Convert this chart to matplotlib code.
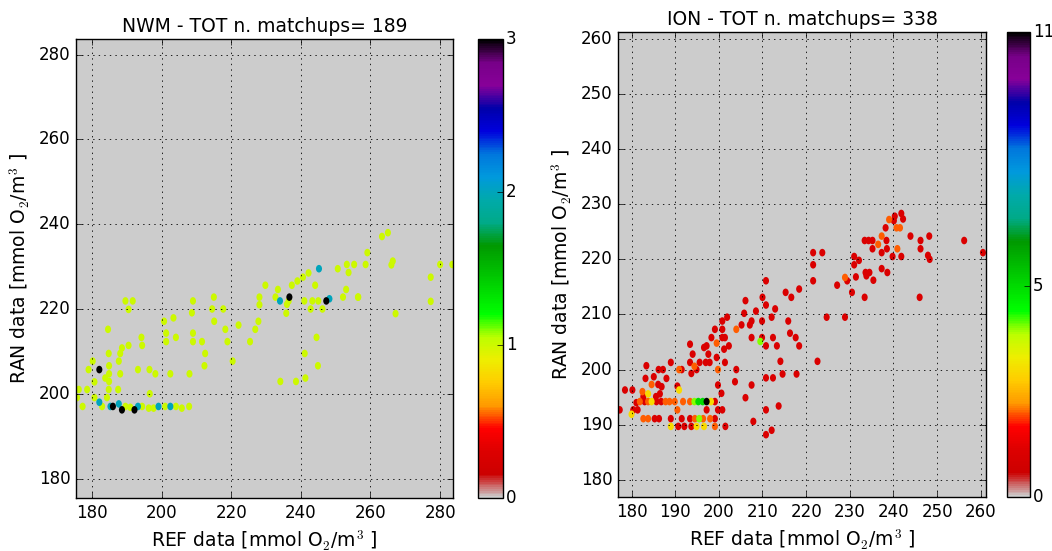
"""Density of matchups RAN vs REF dissolved oxygen for two sub-basins (NWM, ION)."""
import numpy as np
import matplotlib
matplotlib.use("Agg")
import matplotlib.pyplot as plt
from matplotlib.path import Path
from matplotlib.transforms import Affine2D

plt.style.use("classic")
plt.rcParams["figure.facecolor"] = "white"
plt.rcParams["savefig.facecolor"] = "white"
plt.rcParams["mathtext.fontset"] = "cm"

# NWM: occupied (REF, RAN) cells and number of matchups in each
nwm_ref = [189.6, 191.7, 190.5, 209.0, 208.7, 215.0, 214.5, 217.7, 215.1, 218.3,
           222.1, 200.7, 203.4, 201.3, 201.3, 204.1, 209.0, 209.0, 211.6, 212.5,
           212.3, 218.9, 225.4, 220.4, 227.8, 226.9, 228.1, 228.1, 229.8, 233.4,
           232.7, 234.0, 236.5, 236.0, 235.8, 236.7, 237.4, 239.0, 240.6, 242.2,
           241.0, 243.3, 245.0, 242.8, 246.2, 244.1, 245.2, 248.2, 247.3, 250.6,
           253.2, 255.3, 253.7, 253.0, 252.1, 256.4, 244.5, 244.9, 241.1, 241.3,
           234.1, 238.6, 184.6, 184.8, 188.6, 188.1, 190.5, 194.2, 194.4, 180.2,
           182.1, 187.7, 184.9, 188.1, 184.9, 179.0, 193.2, 196.5, 198.2, 202.5,
           208.0, 180.7, 183.8, 184.9, 184.8, 187.5, 176.2, 178.6, 180.7, 175.7,
           184.3, 196.6, 177.3, 182.1, 182.9, 185.3, 186.0, 187.7, 188.6, 189.6,
           191.0, 192.2, 193.2, 194.4, 196.3, 197.7, 199.1, 201.0, 202.5, 204.1,
           205.8, 207.9, 263.3, 265.0, 259.1, 258.6, 266.4, 266.0, 277.3, 280.0,
           283.5, 277.3, 256.5, 267.2]
nwm_ran = [221.9, 221.9, 219.9, 221.9, 219.1, 222.8, 220.0, 220.0, 217.1, 215.2,
           216.2, 217.1, 217.9, 214.3, 212.3, 213.3, 214.3, 212.3, 212.3, 209.5,
           206.6, 212.3, 212.3, 207.7, 217.1, 215.2, 222.8, 221.0, 225.6, 224.6,
           222.8, 221.9, 221.9, 221.1, 219.0, 222.8, 225.6, 226.6, 227.5, 228.5,
           221.9, 221.9, 221.9, 220.0, 220.0, 225.6, 229.5, 222.4, 221.9, 229.5,
           230.5, 230.5, 228.6, 224.6, 222.8, 222.8, 213.3, 206.6, 209.5, 203.7,
           202.9, 202.9, 215.2, 209.5, 210.8, 209.5, 211.4, 213.3, 211.4, 207.7,
           205.7, 207.7, 206.6, 204.7, 204.7, 205.7, 205.7, 205.7, 204.7, 204.7,
           204.7, 202.8, 203.7, 202.9, 201.0, 201.0, 201.0, 201.0, 199.1, 199.1,
           199.1, 200.0, 197.0, 198.0, 197.0, 197.0, 197.0, 197.6, 196.2, 197.0,
           196.8, 196.2, 197.0, 197.0, 196.6, 196.6, 197.0, 197.0, 197.0, 197.0,
           196.6, 197.0, 237.1, 238.0, 233.3, 230.5, 231.3, 230.4, 227.5, 230.5,
           230.5, 221.8, 222.8, 218.9]
nwm_count = [1, 1, 1, 1, 1, 1, 1, 1, 1, 1,
             1, 1, 1, 1, 1, 1, 1, 1, 1, 1,
             1, 1, 1, 1, 1, 1, 1, 1, 1, 1,
             1, 2, 1, 1, 1, 3, 1, 1, 1, 1,
             1, 1, 1, 1, 1, 1, 2, 2, 3, 1,
             1, 1, 1, 1, 1, 1, 1, 1, 1, 1,
             1, 1, 1, 1, 1, 1, 1, 1, 1, 1,
             3, 1, 1, 1, 1, 1, 1, 1, 1, 1,
             1, 1, 1, 1, 1, 1, 1, 1, 1, 1,
             1, 1, 1, 2, 1, 2, 3, 2, 3, 1,
             1, 3, 2, 1, 1, 1, 2, 1, 2, 1,
             1, 1, 1, 1, 1, 1, 1, 1, 1, 1,
             1, 1, 1, 1]

# ION
ion_ref = [240.3, 241.8, 242.2, 240.1, 239.0, 238.2, 240.7, 241.5, 243.9, 246.2,
           248.2, 246.2, 237.3, 238.4, 236.5, 235.2, 234.3, 233.4, 235.2, 237.3,
           238.5, 240.9, 239.8, 241.8, 247.9, 248.3, 256.2, 260.5, 231.0, 231.0,
           232.1, 221.6, 223.7, 221.6, 221.6, 233.6, 234.5, 233.8, 235.4, 237.3,
           238.6, 231.4, 228.9, 229.4, 227.1, 230.5, 233.4, 246.0, 224.7, 228.9,
           210.8, 218.4, 215.3, 216.6, 210.0, 210.8, 206.1, 212.9, 208.5, 205.8,
           209.9, 212.1, 215.9, 216.3, 217.6, 218.4, 214.1, 222.6, 212.4, 213.3,
           209.9, 210.8, 209.5, 207.5, 207.1, 207.5, 205.2, 204.0, 201.9, 200.8,
           200.8, 200.8, 199.1, 201.4, 202.3, 198.3, 197.2, 196.6, 197.6, 197.0,
           193.4, 194.0, 193.4, 195.6, 199.5, 199.5, 201.2, 201.4, 204.0, 199.8,
           197.9, 189.0, 186.2, 187.2, 190.9, 191.5, 194.9, 194.4, 193.7, 183.4,
           183.2, 185.1, 184.6, 186.1, 188.0, 186.9, 190.5, 190.9, 186.5, 185.6,
           182.5, 183.8, 182.7, 181.1, 180.4, 181.4, 178.5, 180.2, 177.3, 180.0,
           181.9, 183.0, 183.8, 184.6, 185.7, 186.8, 187.8, 188.7, 189.9, 191.8,
           193.4, 194.4, 195.3, 196.3, 198.2, 199.1, 197.2,
           182.7, 183.8, 185.3, 186.3, 189.0, 191.5, 193.4, 194.5, 195.5, 196.4,
           198.0, 199.1,
           189.0, 190.7, 192.1, 193.7, 194.9, 196.6, 199.1, 201.5,
           190.5, 197.2, 199.8, 200.8, 203.7, 207.5, 206.1, 199.8, 200.6, 210.8,
           212.4, 214.6, 217.8, 210.8, 213.7, 207.9, 212.1, 210.8]
ion_ran = [227.8, 228.3, 227.3, 227.0, 227.2, 225.7, 225.7, 225.7, 224.2, 223.4,
           224.2, 221.9, 224.2, 223.4, 222.7, 223.4, 223.4, 223.4, 221.9, 221.2,
           221.9, 221.9, 220.5, 220.5, 220.7, 220.0, 223.4, 221.2, 220.5, 219.0,
           219.8, 221.2, 221.2, 219.0, 216.1, 217.6, 217.6, 217.0, 216.2, 218.3,
           217.6, 216.8, 216.7, 216.1, 215.3, 214.0, 213.1, 213.1, 209.5, 209.5,
           216.1, 214.6, 214.0, 213.1, 213.1, 211.7, 212.5, 211.0, 210.6, 210.2,
           208.8, 209.5, 208.8, 206.6, 205.8, 204.3, 201.5, 201.5, 205.8, 204.3,
           205.8, 204.3, 205.1, 208.8, 208.1, 205.8, 208.1, 207.3, 209.5, 208.8,
           207.3, 205.8, 207.3, 205.8, 204.3, 205.8, 204.3, 204.0, 202.8, 201.3,
           204.6, 202.8, 201.3, 201.3, 204.8, 202.2, 203.7, 201.3, 200.0, 200.0,
           201.3, 201.3, 200.0, 200.0, 200.0, 200.0, 200.0, 200.6, 199.3, 200.7,
           198.4, 198.7, 197.3, 197.3, 198.4, 196.9, 197.0, 196.3, 195.6, 195.1,
           196.0, 195.6, 195.1, 194.0, 192.7, 192.7, 196.3, 196.3, 192.7, 191.9,
           194.2, 194.2, 194.2, 194.2, 194.2, 194.2, 194.2, 194.2, 194.2, 194.2,
           194.2, 194.2, 194.2, 194.2, 194.2, 194.2, 194.2,
           191.1, 191.1, 191.1, 191.1, 191.1, 191.1, 191.1, 191.1, 191.1, 191.1,
           191.1, 191.1,
           189.7, 189.7, 189.7, 189.7, 189.7, 189.7, 189.7, 189.7,
           192.7, 192.7, 192.7, 192.7, 197.8, 197.2, 194.9, 197.2, 195.7, 198.5,
           198.5, 199.2, 199.2, 192.7, 193.4, 190.6, 189.0, 188.2]
ion_count = [1, 1, 1, 1, 2, 1, 2, 2, 1, 1,
             1, 1, 2, 1, 2, 1, 1, 1, 1, 1,
             1, 2, 1, 1, 1, 1, 1, 1, 1, 1,
             1, 1, 1, 1, 1, 1, 1, 1, 1, 1,
             1, 1, 2, 1, 1, 1, 1, 1, 1, 1,
             1, 1, 1, 1, 1, 1, 1, 1, 1, 1,
             1, 1, 1, 1, 1, 1, 1, 1, 1, 1,
             1, 1, 4, 1, 1, 1, 1, 2, 1, 1,
             1, 1, 1, 1, 1, 1, 1, 1, 1, 1,
             1, 1, 1, 1, 2, 1, 1, 1, 1, 2,
             1, 1, 1, 1, 2, 1, 1, 2, 1, 1,
             1, 1, 2, 1, 1, 1, 1, 3, 1, 1,
             2, 3, 1, 1, 1, 1, 1, 1, 1, 3,
             2, 1, 2, 3, 1, 1, 2, 2, 2, 2,
             2, 4, 5, 5, 3, 1, 11,
             2, 2, 1, 1, 1, 1, 1, 2, 4, 2,
             2, 1,
             3, 1, 1, 1, 3, 3, 2, 1,
             2, 1, 1, 1, 1, 1, 1, 1, 1, 1,
             1, 1, 1, 1, 1, 1, 1, 1]

PANELS = [
    dict(name="NWM", ntot=189, ref=nwm_ref, ran=nwm_ran, count=nwm_count,
         lim=(175.4, 283.7), ticks=np.arange(180, 281, 20), cticks=[0, 1, 2, 3],
         ax_px=(76, 39, 453, 498), cb_px=(478, 503)),
    dict(name="ION", ntot=338, ref=ion_ref, ran=ion_ran, count=ion_count,
         lim=(176.9, 261.2), ticks=np.arange(180, 261, 10), cticks=[0, 5, 11],
         ax_px=(618, 32, 986, 497), cb_px=(1007, 1030)),
]

W, H = 1052, 551
cmap = plt.get_cmap("nipy_spectral_r")
UNIT = "[mmol O$_2$/m$^3$ ]"

# slightly tall rounded cell, like one bin of the 2-D histogram
cell = Path.unit_circle().transformed(Affine2D().scale(0.8, 1.0))

fig = plt.figure(figsize=(W / 100, H / 100), dpi=100)


def px_rect(x0, y0, x1, y1):
    return [x0 / W, 1 - y1 / H, (x1 - x0) / W, (y1 - y0) / H]


for p in PANELS:
    x0, y0, x1, y1 = p["ax_px"]
    ax = fig.add_axes(px_rect(x0, y0, x1, y1))
    cax = fig.add_axes(px_rect(p["cb_px"][0], y0, p["cb_px"][1], y1))

    ref = np.asarray(p["ref"])
    ran = np.asarray(p["ran"])
    cnt = np.asarray(p["count"])
    order = np.argsort(cnt, kind="stable")

    ax.set_facecolor(cmap(0.0))
    sc = ax.scatter(ref[order], ran[order], c=cnt[order], s=30, marker=cell,
                    cmap=cmap, vmin=0, vmax=cnt.max(), linewidths=0)

    ax.set_xlim(p["lim"])
    ax.set_ylim(p["lim"])
    ax.set_xticks(p["ticks"])
    ax.set_yticks(p["ticks"])
    ax.grid(True, color="k", linestyle=":", linewidth=0.6)
    ax.tick_params(labelsize=12)
    ax.set_title(f"{p['name']} - TOT n. matchups= {p['ntot']}", fontsize=13.5)
    ax.set_xlabel("REF data " + UNIT, fontsize=13.5)
    ax.set_ylabel("RAN data " + UNIT, fontsize=13.5)

    cb = fig.colorbar(sc, cax=cax, ticks=p["cticks"])
    cb.ax.tick_params(labelsize=12, pad=2)

fig.savefig("out.png", dpi=100)
